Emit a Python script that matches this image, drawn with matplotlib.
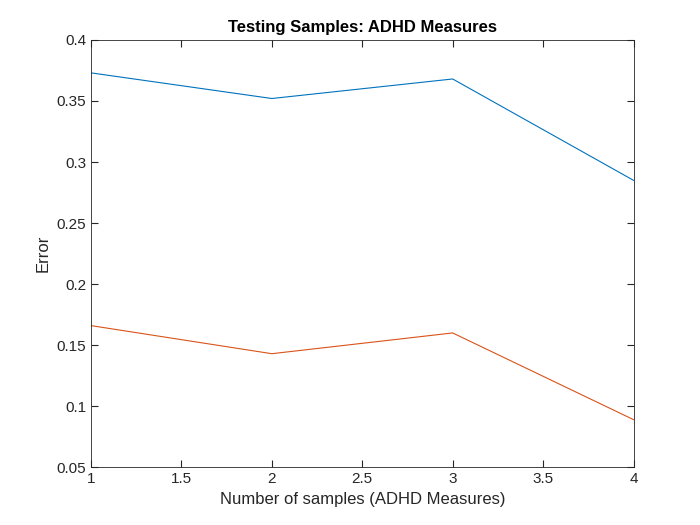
import matplotlib
matplotlib.use("Agg")
import matplotlib.pyplot as plt

plt.rcParams['font.family'] = ['Liberation Sans', 'DejaVu Sans']

samples = [1, 2, 3, 4]
err_a = [0.373, 0.352, 0.368, 0.285]
err_b = [0.166, 0.143, 0.160, 0.089]

fig = plt.figure(figsize=(7, 5.25), dpi=100)
ax = fig.add_axes([0.13, 0.11, 0.775, 0.814])
ax.plot(samples, err_a, color='#0072BD', lw=0.8)
ax.plot(samples, err_b, color='#D95319', lw=0.8)
ax.set_xlim(1, 4)
ax.set_ylim(0.05, 0.4)
ax.set_xticks([1, 1.5, 2, 2.5, 3, 3.5, 4])
ax.set_xticklabels(['1', '1.5', '2', '2.5', '3', '3.5', '4'])
ax.set_yticks([0.05, 0.1, 0.15, 0.2, 0.25, 0.3, 0.35, 0.4])
ax.set_yticklabels(['0.05', '0.1', '0.15', '0.2', '0.25', '0.3', '0.35', '0.4'])
ax.tick_params(direction='in', top=True, right=True, labelsize=11, colors='#262626', length=5)
for s in ax.spines.values():
    s.set_color('#262626')
    s.set_linewidth(0.6)
ax.set_xlabel('Number of samples (ADHD Measures)', fontsize=12, color='#262626')
ax.set_ylabel('Error', fontsize=12, color='#262626')
ax.set_title('Testing Samples: ADHD Measures', fontsize=12, fontweight='bold')
fig.savefig('out.png')
